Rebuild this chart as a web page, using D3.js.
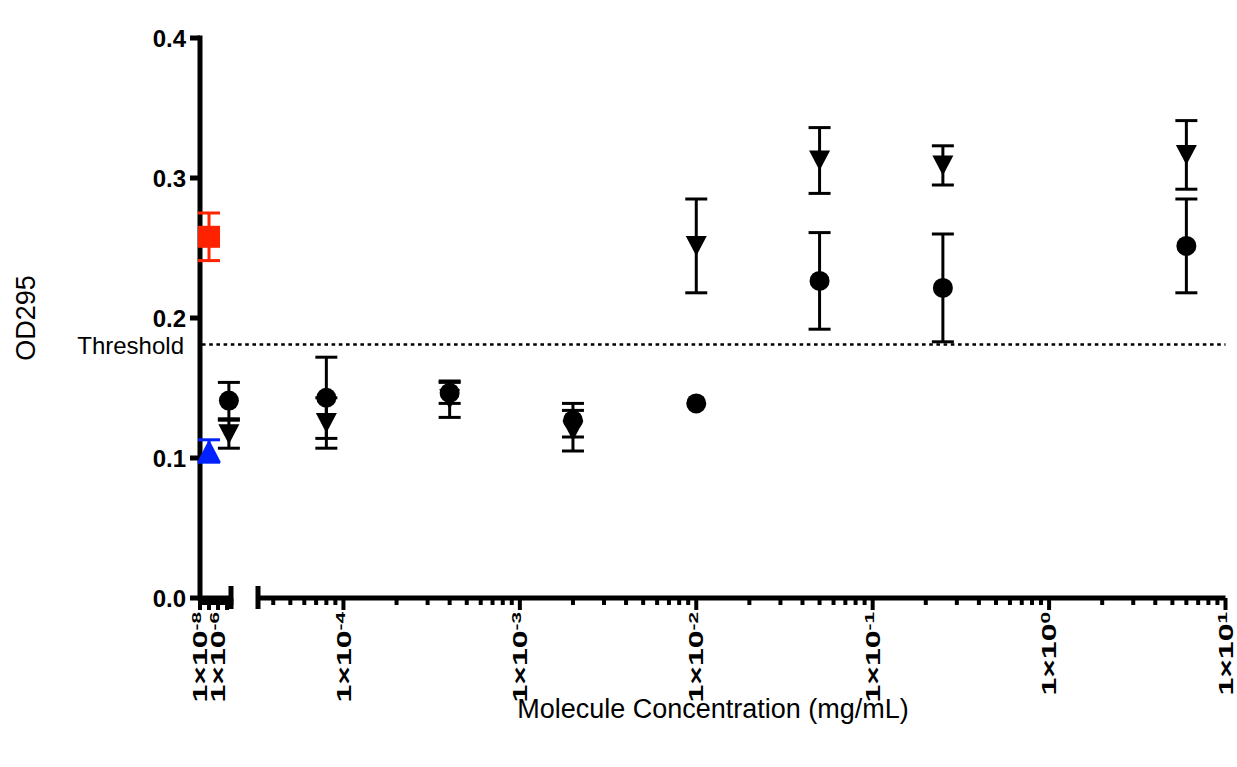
<!DOCTYPE html>
<html>
<head>
<meta charset="utf-8">
<script src="https://cdnjs.cloudflare.com/ajax/libs/d3/7.8.5/d3.min.js"></script>
<style>
body { margin: 0; background: #fff; }
text { font-family: "Liberation Sans", Arial, sans-serif; fill: #000; }
</style>
</head>
<body>
<div class="canvas"></div>
<script>
// data
const conc = [1.6e-5, 8e-5, 4e-4, 2e-3, 1e-2, 5e-2, 0.25, 6];
const circleMean = [0.141, 0.143, 0.1465, 0.127, 0.139, 0.2265, 0.2215, 0.2515];
const circleErr  = [0.013, 0.029, 0.0075, 0.012, 0, 0.0345, 0.0385, 0.0335];
const triMean = [0.117, 0.125, 0.142, 0.1195, 0.2515, 0.3125, 0.309, 0.3165];
const triErr  = [0.010, 0.018, 0.013, 0.0145, 0.0335, 0.0235, 0.014, 0.0245];

const controlConc = [1e-7];
const posMean = [0.258], posErr = [0.017];   // red square
const negMean = [0.105], negErr = [0.008];   // blue triangle
const threshold = 0.181;

const yTicks = [0, 0.1, 0.2, 0.3, 0.4];
const leftLabels = [-8, -6];               // exponents labelled on left piece
const rightLabels = [-4, -3, -2, -1, 0, 1]; // exponents labelled on right piece

const dims = {width: 1237, height: 767};

const svg = d3.select('.canvas')
    .append('svg')
    .attr('width', dims.width)
    .attr('height', dims.height);

// scales. x axis is broken in two log pieces
const y = d3.scaleLinear().domain([0, 0.4]).range([598, 38]);
const xLeft = d3.scaleLog().domain([1e-8, Math.pow(10, -4.45)]).range([200, 232]);
const xRight = d3.scaleLog().domain([Math.pow(10, -4.49), 10]).range([257, 1225.5]);
const xPos = c => c < 3e-5 ? xLeft(c) : xRight(c);

const axisY0 = y(0);

// ticks 1..9 per decade inside a domain
const logTicks = (scale) => {
    const [a, b] = scale.domain();
    const out = [];
    for (let e = Math.floor(Math.log10(a)); e <= Math.ceil(Math.log10(b)); e++) {
        for (let k = 1; k <= 9; k++) {
            const v = k * Math.pow(10, e);
            if (v >= a * 0.999 && v <= b * 1.001) out.push({v, major: k === 1});
        }
    }
    return out;
};

const axes = svg.append('g');

// y axis line
axes.append('line')
    .attr('x1', 200).attr('x2', 200)
    .attr('y1', y(0.4) - 2.5).attr('y2', axisY0 + 2.5)
    .attr('stroke', '#000').attr('stroke-width', 5);

// y ticks + labels
const yT = axes.selectAll('.ytick').data(yTicks).enter().append('g')
    .attr('transform', d => `translate(0,${y(d)})`);
yT.append('line').attr('x1', 190).attr('x2', 200)
    .attr('stroke', '#000').attr('stroke-width', 5);
yT.append('text')
    .attr('x', 186).attr('dy', '0.36em')
    .attr('text-anchor', 'end')
    .style('font-size', '24px').style('font-weight', 'bold')
    .text(d => d3.format('.1f')(d));

// x axis pieces
const drawPiece = (scale, labels) => {
    const [r0, r1] = scale.range();
    axes.append('line')
        .attr('x1', r0).attr('x2', r1)
        .attr('y1', axisY0).attr('y2', axisY0)
        .attr('stroke', '#000').attr('stroke-width', 5);
    axes.selectAll(null).data(logTicks(scale)).enter().append('line')
        .attr('x1', d => scale(d.v)).attr('x2', d => scale(d.v))
        .attr('y1', axisY0)
        .attr('y2', d => axisY0 + (d.major ? 12 : 7))
        .attr('stroke', '#000').attr('stroke-width', 4);
    // labels are drawn stretched along the text, like the original
    const lab = axes.selectAll(null).data(labels).enter().append('text')
        .attr('transform', d => `translate(${scale(Math.pow(10, d))},${axisY0 + 14}) rotate(-90) scale(1.6,1)`)
        .attr('text-anchor', 'end')
        .attr('dy', '0.36em')
        .style('font-size', '20px').style('font-weight', 'bold');
    lab.append('tspan').text('1×10');
    lab.append('tspan').attr('dy', '-0.45em').style('font-size', '13px').text(d => d);
};
drawPiece(xLeft, leftLabels);
drawPiece(xRight, rightLabels);

// end bars at the break
[xLeft.range()[1] - 1, xRight.range()[0] + 1].forEach(px => {
    axes.append('line')
        .attr('x1', px).attr('x2', px)
        .attr('y1', axisY0 - 12).attr('y2', axisY0 + 11)
        .attr('stroke', '#000').attr('stroke-width', 5);
});

// threshold
svg.append('line')
    .attr('x1', 202).attr('x2', xRight.range()[1])
    .attr('y1', y(threshold)).attr('y2', y(threshold))
    .attr('stroke', '#000').attr('stroke-width', 2.5)
    .attr('stroke-dasharray', '3.6,3.6');
svg.append('text')
    .attr('x', 184).attr('y', y(threshold) + 9)
    .attr('text-anchor', 'end')
    .style('font-size', '24px')
    .text('Threshold');

// titles
svg.append('text')
    .attr('transform', `translate(35,${(y(0) + y(0.4)) / 2}) rotate(-90)`)
    .attr('text-anchor', 'middle')
    .style('font-size', '27px')
    .text('OD295');
svg.append('text')
    .attr('x', 713).attr('y', 718)
    .attr('text-anchor', 'middle')
    .style('font-size', '27px')
    .text('Molecule Concentration (mg/mL)');

// series drawing
const plot = svg.append('g');

const errorBars = (xs, means, errs, colour) => {
    const g = plot.append('g');
    xs.forEach((c, i) => {
        if (!errs[i]) return;
        const px = xPos(c);
        const top = y(means[i] + errs[i]), bot = y(means[i] - errs[i]);
        g.append('line').attr('x1', px).attr('x2', px).attr('y1', top).attr('y2', bot)
            .attr('stroke', colour).attr('stroke-width', 3);
        [top, bot].forEach(yy => g.append('line')
            .attr('x1', px - 11).attr('x2', px + 11).attr('y1', yy).attr('y2', yy)
            .attr('stroke', colour).attr('stroke-width', 3));
    });
};

const triPath = (up, s) => {
    const h = s * 0.95;
    return up
        ? `M0,${-h / 2}L${s / 2},${h / 2}L${-s / 2},${h / 2}Z`
        : `M0,${h / 2}L${s / 2},${-h / 2}L${-s / 2},${-h / 2}Z`;
};

errorBars(conc, circleMean, circleErr, '#000');
errorBars(conc, triMean, triErr, '#000');
errorBars(controlConc, posMean, posErr, '#ff2200');
errorBars(controlConc, negMean, negErr, '#0022ff');

plot.selectAll('.circ').data(conc).enter().append('circle')
    .attr('cx', d => xPos(d))
    .attr('cy', (d, i) => y(circleMean[i]))
    .attr('r', 10)
    .attr('fill', '#000');

plot.selectAll('.tri').data(conc).enter().append('path')
    .attr('transform', (d, i) => `translate(${xPos(d)},${y(triMean[i])})`)
    .attr('d', triPath(false, 21))
    .attr('fill', '#000');

plot.selectAll('.pos').data(controlConc).enter().append('rect')
    .attr('x', d => xPos(d) - 11)
    .attr('y', (d, i) => y(posMean[i]) - 11)
    .attr('width', 22).attr('height', 22)
    .attr('fill', '#ff2200');

plot.selectAll('.neg').data(controlConc).enter().append('path')
    .attr('transform', (d, i) => `translate(${xPos(d)},${y(negMean[i])})`)
    .attr('d', triPath(true, 24))
    .attr('fill', '#0022ff');
</script>
</body>
</html>
